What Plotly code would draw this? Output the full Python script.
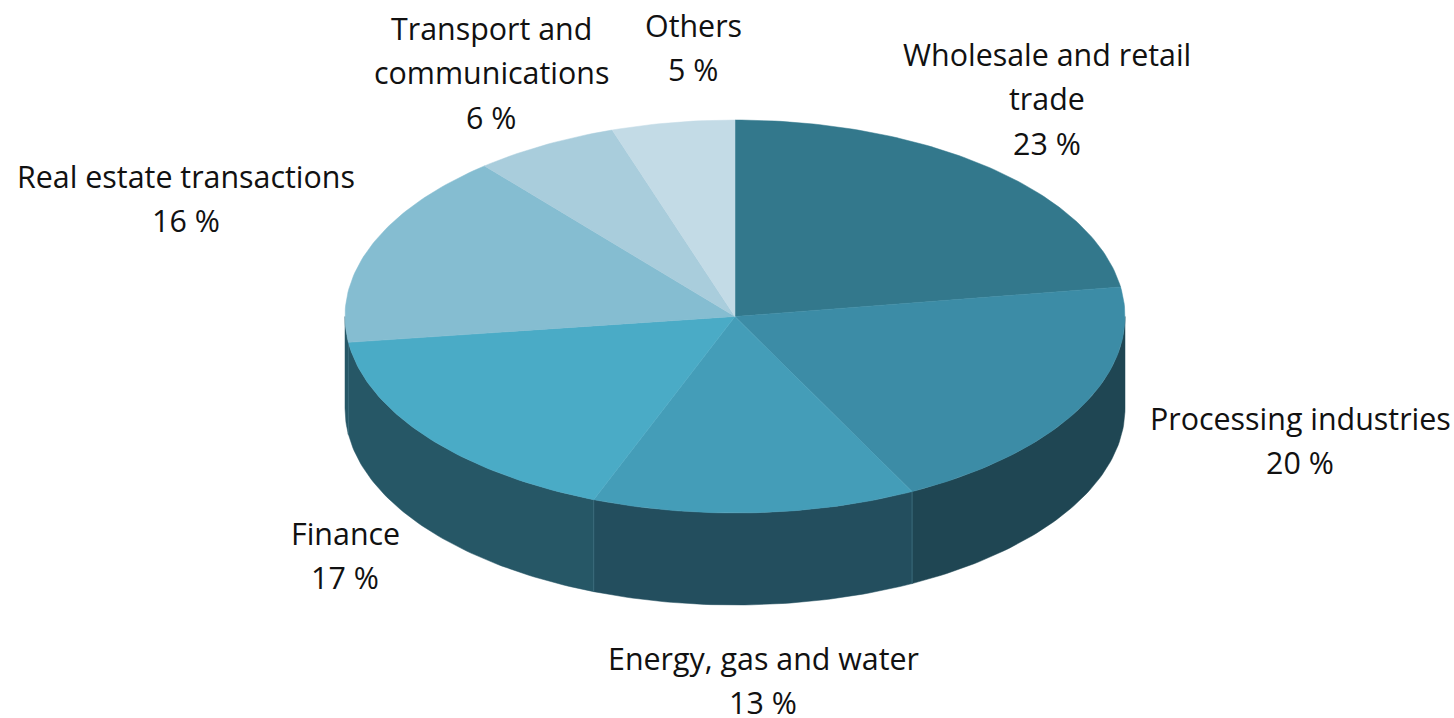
import numpy as np
import plotly.graph_objects as go

categories = ["Wholesale and retail trade", "Processing industries", "Energy, gas and water",
              "Finance", "Real estate transactions", "Transport and communications", "Others"]
values = [22.6, 19.9, 13.4, 17.0, 16.0, 6.0, 5.1]
top_colors = ["#33788C", "#3C8CA6", "#449DB8", "#4AABC6", "#85BDD1", "#A9CDDC", "#C3DBE6"]
side_colors = ["#1F4653", "#1F4653", "#234E5E", "#265766", "#265766", "#2E6A7C", "#2E6A7C"]
label_lines = [
    ["Wholesale and retail", "trade", "23 %"],
    ["Processing industries", "20 %"],
    ["Energy, gas and water", "13 %"],
    ["Finance", "17 %"],
    ["Real estate transactions", "16 %"],
    ["Transport and", "communications", "6 %"],
    ["Others", "5 %"],
]
label_centers = [(1047, 54), (1300, 418), (763, 658), (345, 533), (186, 176), (491, 28), (693, 25)]

W, H = 1454, 718
CX, CY, RX, RY, DEPTH = 735, 316.5, 390, 196.5, 92
LINE = 44.5
FONT = "Open Sans"

fractions = np.array(values) / sum(values)
edges = np.concatenate([[0], np.cumsum(fractions)]) * 2 * np.pi

fig = go.Figure()

def rim(a0, a1):
    t = np.linspace(a0, a1, max(3, int((a1 - a0) * 60)))
    return CX + RX * np.sin(t), CY - RY * np.cos(t)

# walls
for i, name in enumerate(categories):
    lo, hi = max(edges[i], np.pi / 2), min(edges[i + 1], 3 * np.pi / 2)
    if hi <= lo:
        continue
    x, y = rim(lo, hi)
    fig.add_trace(go.Scatter(
        x=np.concatenate([x, x[::-1], x[:1]]),
        y=np.concatenate([y, y[::-1] + DEPTH, y[:1]]),
        mode="lines", fill="toself", fillcolor=side_colors[i],
        line=dict(color=side_colors[i], width=0.5), hoverinfo="skip", showlegend=False))

# wall seams
for a in edges[1:]:
    if np.pi / 2 < a < 3 * np.pi / 2:
        x, y = rim(a, a + 1e-6)
        fig.add_trace(go.Scatter(x=[x[0], x[0]], y=[y[0], y[0] + DEPTH], mode="lines",
                                 line=dict(color="#3A6A7A", width=1), hoverinfo="skip", showlegend=False))

# top face
for i, name in enumerate(categories):
    x, y = rim(edges[i], edges[i + 1])
    fig.add_trace(go.Scatter(
        x=np.concatenate([[CX], x, [CX]]), y=np.concatenate([[CY], y, [CY]]),
        mode="lines", fill="toself", fillcolor=top_colors[i],
        line=dict(color=top_colors[i], width=0.5), name=name,
        text=f"{name}: {round(values[i])} %", hoverinfo="text", showlegend=False))

annotations = []
for lines, (lx, ly) in zip(label_lines, label_centers):
    for j, line in enumerate(lines):
        annotations.append(dict(x=lx, y=ly + j * LINE, text=line, showarrow=False,
                                xanchor="center", yanchor="middle",
                                font=dict(family=FONT, size=30.4, color="#111111")))

fig.update_layout(
    width=W, height=H, margin=dict(l=0, r=0, t=0, b=0),
    paper_bgcolor="white", plot_bgcolor="white", annotations=annotations,
    xaxis=dict(range=[0, W], visible=False, fixedrange=True),
    yaxis=dict(range=[H, 0], visible=False, fixedrange=True),
)
fig.write_html("out.html", config={"displayModeBar": False},
               post_script="document.body.style.margin='0';document.body.style.overflow='hidden';")
